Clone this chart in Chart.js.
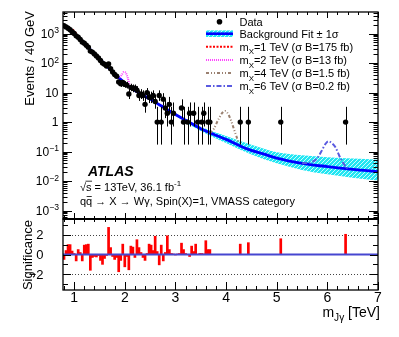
<!DOCTYPE html>
<html><head><meta charset="utf-8">
<script src="https://cdn.jsdelivr.net/npm/chart.js@4/dist/chart.umd.min.js"></script>
<style>html,body{margin:0;padding:0;background:#fff;overflow:hidden}canvas{display:block}</style>
</head><body>
<canvas id="c" width="399" height="337"></canvas>
<script>
// ---------- data ----------
const dataX = [0.80,0.84,0.88,0.92,0.96,1.00,1.04,1.08,1.12,1.16,1.20,1.24,1.28,1.32,1.36,1.40,1.44,1.48,1.52,1.56,1.60,1.64,1.68,1.72,1.76,1.80,1.84,1.88,1.92,1.96,2.00,2.04,2.08,2.12,2.16,2.20,2.24,2.28,2.32,2.36,2.40,2.44,2.48,2.52,2.56,2.60,2.64,2.68,2.72,2.76,2.80,2.84,2.88,2.92,2.96,3.12,3.16,3.24,3.28,3.36,3.44,3.52,3.56,3.64,3.68,4.28,4.44,5.08,6.36];
const dataY = [1860,1690,1525,1345,1155,1003,838,749,633,518,473,405,348,255,236,203,174,150,122,100,91,80,93,65,50,41,36,23,20,22,19,18,9,15,14,14,12,8,9,8,4,10,7,7,8,5,1,8,1,6,3,2,4,1,2,3,1,1,2,2,1,1,2,1,1,1,1,1,1];

const fitX = [0.78,0.9,1.0,1.1,1.25,1.5,1.75,2.0,2.25,2.5,2.75,3.0,3.25,3.5,3.75,4.0,4.4,4.75,5.0,5.5,6.0,6.5,7.0];
const fitY = [2000,1400,1000,680,370,140,53,21,10.5,6.0,3.3,1.8,1.05,0.6,0.39,0.26,0.126,0.082,0.06,0.04,0.031,0.025,0.021];

const bandX  = [0.78,1.0,1.5,2.0,2.5,3.0,3.5,4.0,4.5,5.0,5.5,6.0,6.5,7.0];
const bandHi = [2050,1020,143,21.6,6.3,1.95,0.70,0.34,0.17,0.095,0.075,0.065,0.058,0.053];
const bandLo = [1950,980,137,20.4,5.7,1.65,0.50,0.195,0.08,0.04,0.024,0.017,0.013,0.0105];

const sig1X = [0.84,0.88,0.92,0.96,1.00,1.04,1.08,1.12];
const sig1Y = [1680,1560,1480,1390,1200,1000,780,630];
const sig2X = [1.86,1.90,1.94,1.98,2.02,2.06,2.10,2.14];
const sig2Y = [35,33,40,50,47,31,17,14];
const sig4X = [3.68,3.76,3.84,3.92,3.98,4.04,4.10,4.16,4.24];
const sig4Y = [0.43,0.60,1.15,2.0,2.4,1.9,1.1,0.55,0.22];
const sig6X = [5.50,5.70,5.80,5.88,5.96,6.02,6.08,6.16,6.24,6.34,6.40];
const sig6Y = [0.040,0.045,0.060,0.10,0.18,0.225,0.20,0.14,0.07,0.035,0.027];

const sigX = [0.80,0.84,0.88,0.92,0.96,1.00,1.04,1.08,1.12,1.16,1.20,1.24,1.28,1.32,1.36,1.40,1.44,1.48,1.52,1.56,1.60,1.64,1.68,1.72,1.76,1.80,1.84,1.88,1.92,1.96,2.00,2.04,2.08,2.12,2.16,2.20,2.24,2.28,2.32,2.36,2.40,2.44,2.48,2.52,2.56,2.60,2.64,2.68,2.72,2.76,2.80,2.84,2.88,2.92,2.96,3.00,3.04,3.08,3.12,3.16,3.20,3.24,3.28,3.32,3.36,3.40,3.44,3.48,3.52,3.56,3.60,3.64,3.68,4.28,4.44,5.08,6.36];
const sigY = [-0.5,0.4,1.0,1.0,0.35,0.1,-0.65,0.5,0.2,-0.65,0.95,1.0,1.05,-1.6,-0.3,-0.2,-0.25,-0.1,-0.6,-1.0,-0.4,-0.1,2.75,0.7,-0.2,-0.5,-0.3,-1.75,-0.6,1.05,-1.25,-0.2,-1.55,0.85,0.75,-0.3,1.5,0.7,0.2,-0.3,-0.6,0.1,1.05,0.95,0.4,1.85,0.3,-1.05,0.95,-0.65,0.2,1.9,0.5,0.1,0.05,-0.05,0.05,0.1,1.15,0.5,0.1,0.0,-0.2,0.85,0.3,1.05,0.0,0.1,0.1,0.05,1.4,0.5,0.5,1.05,1.2,1.6,2.05];

// Poisson (Garwood) error interval for n = 0..20
const poissonLo = [0,0.173,0.708,1.367,2.086,2.840,3.620,4.419,5.232,6.057,6.891,7.73,8.58,9.43,10.30,11.17,12.04,12.92,13.80,14.68,15.57];
const poissonHi = [1.84,3.300,4.638,5.918,7.163,8.382,9.584,10.77,11.95,13.11,14.27,15.42,16.56,17.70,18.83,19.96,21.08,22.20,23.32,24.43,25.54];

const xTickValues = [1,2,3,4,5,6,7];
const xTickLabels = ['1','2','3','4','5','6','7'];
const yDecades = [3,2,1,0,-1,-2,-3];
const sigTickValues = [2,0,-2];
const sigTickLabels = ['2','0','\u22122'];

const legendItems = [
  {kind:'data', parts:[['Data',0]]},
  {kind:'band', parts:[['Background Fit \u00b1 1\u03c3',0]]},
  {kind:'line', color:'#ff0000', dash:[2,1.5], parts:[['m',0],['X',1],['=1 TeV (\u03c3 B=175 fb)',0]]},
  {kind:'line', color:'#ff44ff', dash:[1,1], parts:[['m',0],['X',1],['=2 TeV (\u03c3 B=13 fb)',0]]},
  {kind:'line', color:'#9a8070', dash:[3,2,1,2,1,2], parts:[['m',0],['X',1],['=4 TeV (\u03c3 B=1.5 fb)',0]]},
  {kind:'line', color:'#5a5ae0', dash:[5,2,1.5,2], parts:[['m',0],['X',1],['=6 TeV (\u03c3 B=0.2 fb)',0]]}
];

// ---------- helpers ----------
const FONT = '"Liberation Sans", Arial, Helvetica, sans-serif';
function pts(xs, ys){ return xs.map((x,i)=>({x:x, y:ys[i]})); }

const C = document.getElementById('c');
const pc = document.createElement('canvas'); pc.width = 4; pc.height = 4;
const pg = pc.getContext('2d');
pg.fillStyle = '#22e6f2'; pg.fillRect(0,0,4,4);
pg.fillStyle = '#c8fbff'; pg.fillRect(0,0,1,1); pg.fillRect(2,2,1,1); pg.fillRect(1,3,1,1); pg.fillRect(3,1,1,1);
const bandPattern = C.getContext('2d').createPattern(pc, 'repeat');

function rich(ctx, x, y, parts, size, align, style){
  style = style || '';
  const sizes = parts.map(p => p[1] ? size*0.72 : size);
  let w = 0;
  parts.forEach((p,i)=>{ ctx.font = style + sizes[i].toFixed(1)+'px '+FONT; w += ctx.measureText(p[0]).width; });
  let cx = align === 'right' ? x - w : x;
  ctx.textAlign = 'left'; ctx.textBaseline = 'alphabetic';
  parts.forEach((p,i)=>{
    ctx.font = style + sizes[i].toFixed(1)+'px '+FONT;
    const dy = p[1]===1 ? size*0.32 : (p[1]===2 ? -size*0.40 : 0);
    ctx.fillText(p[0], cx, y+dy);
    cx += ctx.measureText(p[0]).width;
  });
  return cx;
}
function line(ctx,x1,y1,x2,y2){ ctx.beginPath(); ctx.moveTo(x1,y1); ctx.lineTo(x2,y2); ctx.stroke(); }

const decor = {
  id: 'decor',
  beforeDatasetsDraw(chart){
    const ctx = chart.ctx, x = chart.scales.x, y2 = chart.scales.y2;
    ctx.save();
    ctx.strokeStyle = '#444'; ctx.lineWidth = 1; ctx.setLineDash([1,2]);
    [2,-2].forEach(v => { const py = Math.round(y2.getPixelForValue(v))+0.5; line(ctx, x.left, py, x.right, py); });
    ctx.restore();
  },
  afterDatasetsDraw(chart){
    const ctx = chart.ctx, x = chart.scales.x, y = chart.scales.y;
    ctx.save();
    ctx.beginPath(); ctx.rect(x.left, y.top, x.right-x.left, y.bottom-y.top); ctx.clip();
    ctx.strokeStyle = '#000'; ctx.lineWidth = 1;
    dataX.forEach((xv,i) => {
      const n = Math.round(dataY[i]);
      if (n > 20) return;
      const px = Math.round(x.getPixelForValue(xv)) + 0.5;
      line(ctx, px, y.getPixelForValue(poissonLo[n]), px, y.getPixelForValue(poissonHi[n]));
    });
    ctx.restore();
  },
  afterDraw(chart){
    const ctx = chart.ctx, x = chart.scales.x, y = chart.scales.y, y2 = chart.scales.y2;
    const L = x.left, R = x.right, T1 = y.top, B1 = y.bottom, T2 = y2.top, B2 = y2.bottom;
    ctx.save();
    ctx.strokeStyle = '#000'; ctx.fillStyle = '#000'; ctx.lineWidth = 1;
    // x ticks (every 0.2 TeV, major at integers)
    for (let k = 4; k <= 35; k++) {
      const v = k/5; const px = Math.round(x.getPixelForValue(v)) + 0.5;
      const major = (k % 5 === 0);
      const a = major ? 6 : 3, b = major ? 8 : 4;
      line(ctx, px, T1, px, T1 + a);
      line(ctx, px, B1, px, B1 - a);
      line(ctx, px, T2, px, T2 + (major?5:3));
      line(ctx, px, B2, px, B2 - b);
    }
    // log y ticks
    for (let e = -4; e <= 3; e++) {
      for (let m = 1; m <= 9; m++) {
        const v = m * Math.pow(10, e);
        if (v < y.min || v > y.max) continue;
        const py = Math.round(y.getPixelForValue(v)) + 0.5;
        const len = m === 1 ? 9 : 4.5;
        line(ctx, L, py, L + len, py);
        line(ctx, R, py, R - len, py);
      }
    }
    // significance ticks
    for (let v = -3; v <= 3; v++) {
      const py = Math.round(y2.getPixelForValue(v)) + 0.5;
      const len = (v % 2 === 0) ? 8 : 5;
      line(ctx, L, py, L + len, py);
      line(ctx, R, py, R - len, py);
    }
    // frames
    ctx.lineWidth = 1.3;
    ctx.strokeRect(L, T1, R - L, B1 - T1);
    ctx.strokeRect(L, T2, R - L, B2 - T2);
    ctx.lineWidth = 2.2;
    line(ctx, L, B1, R, B1);

    // y tick labels (log)
    yDecades.forEach(e => {
      const py = y.getPixelForValue(Math.pow(10, e));
      if (e === 0) { ctx.font = '12px '+FONT; ctx.textAlign='right'; ctx.textBaseline='alphabetic'; ctx.fillText('1', 58.5, py + 4.3); }
      else if (e === 1) { ctx.font = '12px '+FONT; ctx.textAlign='right'; ctx.textBaseline='alphabetic'; ctx.fillText('10', 58.5, py + 4.3); }
      else { rich(ctx, 59, py + 4.3, [['10',0],[(e<0?'\u2212':'')+Math.abs(e),2]], 12, 'right'); }
    });
    // significance tick labels
    ctx.font = '13px '+FONT; ctx.textAlign = 'right'; ctx.textBaseline = 'alphabetic';
    sigTickValues.forEach((v,i) => { ctx.fillText(sigTickLabels[i], 43.5, y2.getPixelForValue(v) + 4.7); });
    // x tick labels
    ctx.font = '14px '+FONT; ctx.textAlign = 'center';
    xTickValues.forEach((v,i) => { ctx.fillText(xTickLabels[i], x.getPixelForValue(v), 302); });
    // x title
    rich(ctx, 380, 316.5, [['m',0],['J\u03b3',1],[' [TeV]',0]], 14, 'right');
    // y titles
    ctx.save(); ctx.translate(33.5, 11); ctx.rotate(-Math.PI/2);
    ctx.font = '13px '+FONT; ctx.textAlign = 'right'; ctx.textBaseline = 'alphabetic';
    ctx.fillText('Events / 40 GeV', 0, 0); ctx.restore();
    ctx.save(); ctx.translate(31.5, 220); ctx.rotate(-Math.PI/2);
    ctx.font = '13px '+FONT; ctx.textAlign = 'right'; ctx.textBaseline = 'alphabetic';
    ctx.fillText('Significance', 0, 0); ctx.restore();

    // ATLAS label
    ctx.font = 'italic bold 14px '+FONT; ctx.textAlign = 'left';
    ctx.fillText('ATLAS', 88, 175.5);
    // sqrt(s) line
    ctx.font = '11px '+FONT;
    ctx.fillText('\u221a', 80, 190.5);
    const wr = ctx.measureText('\u221a').width;
    ctx.fillText('s', 80 + wr, 190.5);
    const ws = ctx.measureText('s').width;
    ctx.lineWidth = 0.8; line(ctx, 80 + wr - 0.5, 181.2, 80 + wr + ws + 0.5, 181.2);
    rich(ctx, 80 + wr + ws, 190.5, [[' = 13TeV, 36.1 fb',0],['-1',2]], 11, 'left');
    // process line
    ctx.font = '11px '+FONT; ctx.textAlign='left';
    ctx.fillText('q', 80, 205);
    const wq = ctx.measureText('q').width;
    ctx.fillText('q', 80 + wq, 205);
    line(ctx, 80 + wq + 0.5, 196.5, 80 + 2*wq - 0.5, 196.5);
    ctx.fillText(' \u2192 X \u2192 W\u03b3, Spin(X)=1, VMASS category', 80 + 2*wq, 205);

    // legend
    const rows = [21.7, 33.7, 46.7, 60, 73, 86];
    const sx1 = 206, sx2 = 233, tx = 239.5;
    legendItems.forEach((it, i) => {
      const cy = rows[i];
      if (it.kind === 'data') {
        ctx.beginPath(); ctx.arc(219.5, cy, 2.8, 0, Math.PI*2); ctx.fill();
      } else if (it.kind === 'band') {
        ctx.fillStyle = bandPattern; ctx.fillRect(sx1, cy - 3.3, sx2 - sx1, 6.6); ctx.fillStyle = '#000';
        ctx.strokeStyle = '#0000ff'; ctx.lineWidth = 2.6; line(ctx, sx1, cy, sx2, cy); ctx.strokeStyle = '#000';
      } else {
        ctx.save(); ctx.strokeStyle = it.color; ctx.lineWidth = 2; ctx.setLineDash(it.dash);
        line(ctx, sx1, cy, sx2, cy); ctx.restore();
      }
      rich(ctx, tx, cy + 4, it.parts, 11, 'left');
    });
    ctx.restore();
  }
};

new Chart(C, {
  type: 'scatter',
  data: { datasets: [
    { type:'scatter', data: pts(dataX, dataY), pointRadius: 2.7, pointBackgroundColor:'#000', pointBorderWidth:0, borderColor:'#000', order: 0, yAxisID:'y' },
    { type:'line', data: pts(sig6X, sig6Y), borderColor:'#5a5ae0', borderWidth:2, borderDash:[5,2,1.5,2], pointRadius:0, cubicInterpolationMode:'monotone', fill:false, order:1, yAxisID:'y' },
    { type:'line', data: pts(sig4X, sig4Y), borderColor:'#9a8070', borderWidth:2, borderDash:[3,2,1,2,1,2], pointRadius:0, cubicInterpolationMode:'monotone', fill:false, order:2, yAxisID:'y' },
    { type:'line', data: pts(sig2X, sig2Y), borderColor:'#ff44ff', borderWidth:2, borderDash:[1,1], pointRadius:0, cubicInterpolationMode:'monotone', fill:false, order:3, yAxisID:'y' },
    { type:'line', data: pts(sig1X, sig1Y), borderColor:'#ff0000', borderWidth:2, borderDash:[2,1.5], pointRadius:0, cubicInterpolationMode:'monotone', fill:false, order:4, yAxisID:'y' },
    { type:'line', data: pts(fitX, fitY), borderColor:'#0000ff', borderWidth:2.8, pointRadius:0, cubicInterpolationMode:'monotone', fill:false, order:5, yAxisID:'y' },
    { type:'line', data: pts(bandX, bandHi), borderColor:'rgba(0,0,0,0)', borderWidth:0, pointRadius:0, backgroundColor: bandPattern, fill:'+1', cubicInterpolationMode:'monotone', order:6, yAxisID:'y' },
    { type:'line', data: pts(bandX, bandLo), borderColor:'rgba(0,0,0,0)', borderWidth:0, pointRadius:0, fill:false, cubicInterpolationMode:'monotone', order:7, yAxisID:'y' },
    { type:'line', data: [{x:0.78,y:0},{x:7,y:0}], borderColor:'#4646d0', borderWidth:2, pointRadius:0, fill:false, order:8, yAxisID:'y2' },
    { type:'bar', data: pts(sigX, sigY), backgroundColor:'#ff0000', borderWidth:0, barPercentage:1, categoryPercentage:1, order:9, xAxisID:'x', yAxisID:'y2' }
  ]},
  options: {
    responsive:false, devicePixelRatio:1, animation:false, events:[],
    layout: { padding: { left:63, right:21, top:12, bottom:47 } },
    plugins: { legend:{display:false}, tooltip:{enabled:false} },
    scales: {
      x: { type:'linear', position:'bottom', min:0.78, max:7, offset:false,
           ticks:{display:false}, grid:{display:false, drawTicks:false, offset:false}, border:{display:false} },
      y2: { type:'linear', position:'left', stack:'panels', stackWeight:71, min:-3.6, max:3.6,
           ticks:{display:false}, grid:{display:false, drawTicks:false}, border:{display:false} },
      y: { type:'logarithmic', position:'left', stack:'panels', stackWeight:207, min:5.2e-4, max:5400,
           ticks:{display:false}, grid:{display:false, drawTicks:false}, border:{display:false} }
    }
  },
  plugins: [decor]
});
</script>
</body></html>
